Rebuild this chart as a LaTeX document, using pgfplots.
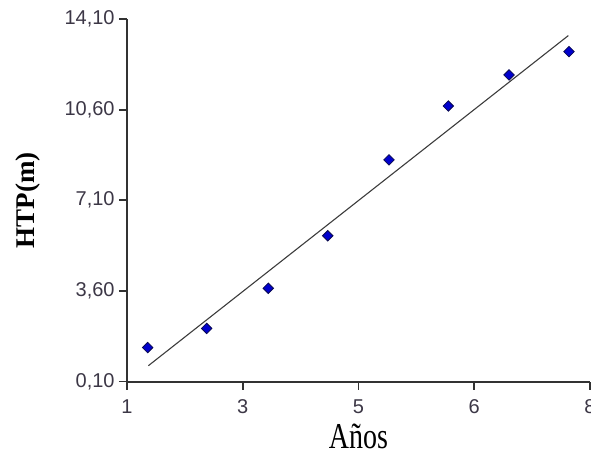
\documentclass[border=0pt]{standalone}
\usepackage{pgfplots}
\pgfplotsset{compat=1.18}
\usepackage{fontspec}
\setmainfont{Liberation Serif}
\newfontfamily\arialf{Liberation Sans}
\definecolor{axgray}{RGB}{50,50,50}
\definecolor{tickc}{RGB}{60,55,70}
\definecolor{markblue}{RGB}{0,0,205}
\definecolor{markedge}{RGB}{10,10,80}
\definecolor{linegray}{RGB}{60,60,60}
\begin{document}
\begin{tikzpicture}
\useasboundingbox (-63.5pt,-35.25pt) rectangle (232pt,190.75pt);
\begin{axis}[
  at={(0,0)}, anchor=south west,
  scale only axis,
  width=231.5pt, height=181.25pt,
  xmin=1, xmax=8, ymin=0.1, ymax=14.1,
  axis x line=bottom, axis y line=left,
  axis line style={-, line width=1pt, color=axgray},
  tick align=outside,
  major tick length=4pt,
  tick style={line width=0.9pt, color=axgray},
  xtick={1,2.75,4.5,6.25,8},
  xticklabels={1,3,5,6,8},
  ytick={0.1,3.6,7.1,10.6,14.1},
  yticklabels={{0,10},{3,60},{7,10},{10,60},{14,10}},
  ticklabel style={font=\arialf\fontsize{10}{12}\selectfont, text=tickc},
  yticklabel style={anchor=east, inner sep=0pt, xshift=-2pt},
  xticklabel style={anchor=north, inner sep=0pt, yshift=-4.75pt},
  every axis y label/.style={at={(axis description cs:0,0.5)}, xshift=-49.25pt, rotate=90, anchor=center},
  every axis x label/.style={at={(axis description cs:0.5,0)}, anchor=base, inner sep=0pt, yshift=-33.25pt},
  ylabel={\fontsize{13.5}{16}\selectfont\bfseries HTP(m)},
  xlabel={\fontsize{14}{16}\selectfont\scalebox{1}[1.3]{Años}},
  clip=false,
]
\addplot[linegray, line width=0.55pt] coordinates {(1.323,0.71) (7.673,13.46)};
\addplot[only marks, mark=square*, mark size=1.85pt,
  mark options={rotate=45, fill=markblue, draw=markedge, line width=0.4pt}]
  coordinates {
  (1.313,1.41) (2.205,2.15) (3.136,3.70) (4.035,5.73)
  (4.961,8.66) (5.858,10.74) (6.776,11.94) (7.683,12.84)
  };
\end{axis}
\end{tikzpicture}
\end{document}
